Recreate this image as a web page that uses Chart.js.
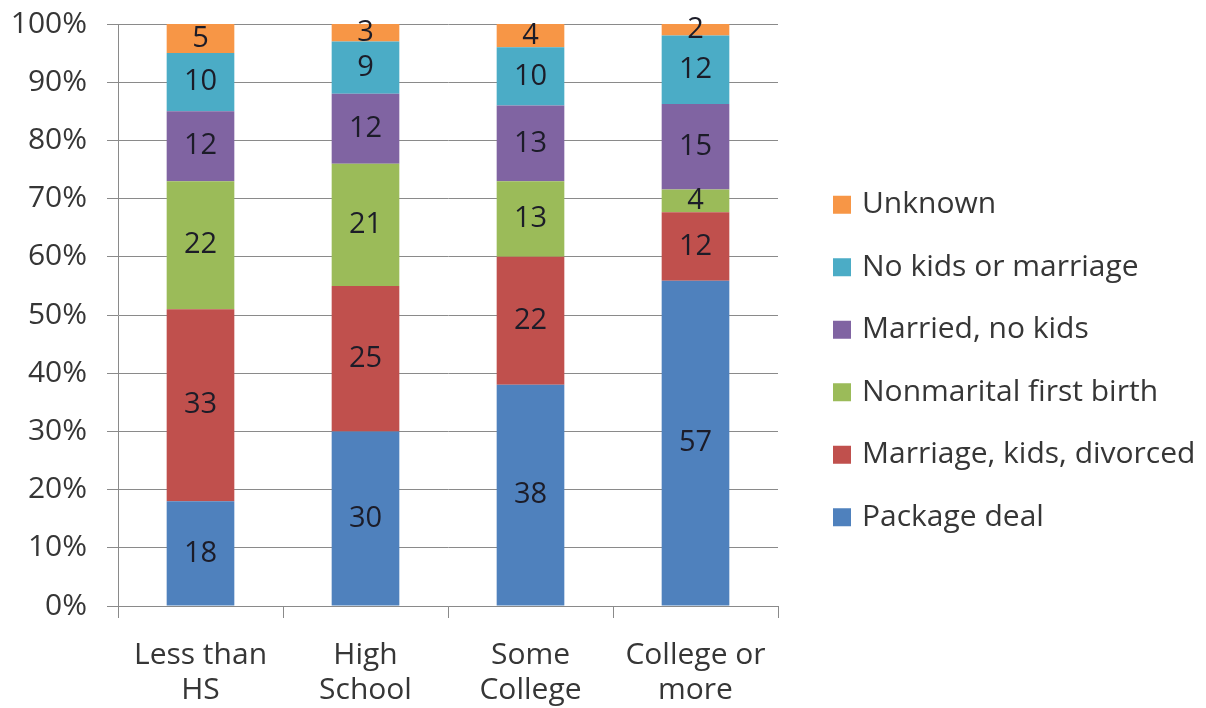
<!DOCTYPE html>
<html>
<head>
<meta charset="utf-8">
<script src="https://cdn.jsdelivr.net/npm/chart.js@4/dist/chart.umd.min.js"></script>
<style>
  html, body { margin: 0; padding: 0; background: #fff; }
  #wrap { width: 1206px; height: 708px; position: relative; }
</style>
</head>
<body>
<div id="wrap"><canvas id="chart"></canvas></div>
<script>
const categories = [["Less than", "HS"], ["High", "School"], ["Some", "College"], ["College or", "more"]];
const packageDeal = [18, 30, 38, 57];
const marriageKidsDivorced = [33, 25, 22, 12];
const nonmaritalFirstBirth = [22, 21, 13, 4];
const marriedNoKids = [12, 12, 13, 15];
const noKidsOrMarriage = [10, 9, 10, 12];
const unknown = [5, 3, 4, 2];
const yTicks = [0, 10, 20, 30, 40, 50, 60, 70, 80, 90, 100];

const seriesNames = ["Package deal", "Marriage, kids, divorced", "Nonmarital first birth",
  "Married, no kids", "No kids or marriage", "Unknown"];
const seriesValues = [packageDeal, marriageKidsDivorced, nonmaritalFirstBirth,
  marriedNoKids, noKidsOrMarriage, unknown];
const seriesColors = ["#4F81BD", "#C0504D", "#9BBB59", "#8064A2", "#4BACC6", "#F79646"];

const FONT = "'Open Sans', Lato, sans-serif";
const textColor = "#363636";
const gridColor = "#8a8a8a";

// 100% stacked: each column scaled to its own total
const totals = categories.map((c, i) => seriesValues.reduce((s, arr) => s + arr[i], 0));

const datasets = seriesValues.map((vals, k) => ({
  label: seriesNames[k],
  raw: vals,
  data: vals.map((v, i) => v / totals[i] * 100),
  backgroundColor: seriesColors[k],
  borderWidth: 0,
  barPercentage: 0.41,
  categoryPercentage: 1.0,
}));

// values written in the middle of each segment
const segmentLabels = {
  id: "segmentLabels",
  afterDatasetsDraw(chart) {
    const ctx = chart.ctx;
    ctx.save();
    ctx.font = "29px " + FONT;
    ctx.fillStyle = "#1c1c28";
    ctx.textAlign = "center";
    ctx.textBaseline = "middle";
    chart.data.datasets.forEach((ds, k) => {
      chart.getDatasetMeta(k).data.forEach((bar, i) => {
        const yMid = (bar.y + bar.base) / 2;
        ctx.fillText(String(ds.raw[i]), bar.x, yMid);
      });
    });
    ctx.restore();
  }
};

// legend on the right, last series on top
const sideLegend = {
  id: "sideLegend",
  afterDraw(chart) {
    const ctx = chart.ctx;
    const ds = chart.data.datasets;
    const step = 62.5;
    const x0 = chart.chartArea.right + 55;
    let y = chart.height / 2 - step * (ds.length - 1) / 2 + 7;
    ctx.save();
    ctx.font = "30px " + FONT;
    ctx.textBaseline = "middle";
    ctx.textAlign = "left";
    for (let k = ds.length - 1; k >= 0; k--) {
      ctx.fillStyle = ds[k].backgroundColor;
      ctx.fillRect(x0, y - 9, 18, 18);
      ctx.fillStyle = textColor;
      ctx.fillText(ds[k].label, x0 + 29, y);
      y += step;
    }
    ctx.restore();
  }
};

new Chart(document.getElementById("chart"), {
  type: "bar",
  data: { labels: categories, datasets: datasets },
  plugins: [segmentLabels, sideLegend],
  options: {
    responsive: true,
    maintainAspectRatio: false,
    animation: false,
    layout: { padding: { top: 24, right: 428, bottom: 0, left: 0 } },
    plugins: {
      legend: { display: false },
      tooltip: { enabled: false },
    },
    scales: {
      x: {
        stacked: true,
        grid: {
          display: true,
          offset: true,
          drawOnChartArea: false,
          drawTicks: true,
          tickLength: 12,
          color: gridColor,
        },
        border: { display: true, color: gridColor, width: 1 },
        ticks: {
          color: textColor,
          font: { family: FONT, size: 30, lineHeight: 1.17 },
          padding: 20,
          maxRotation: 0,
        },
        afterFit(scale) { scale.height = 102; },
      },
      y: {
        stacked: true,
        min: 0,
        max: 100,
        afterBuildTicks(scale) { scale.ticks = yTicks.map(v => ({ value: v })); },
        grid: {
          color: gridColor,
          tickLength: 11,
          drawTicks: true,
        },
        border: { display: true, color: gridColor, width: 1 },
        ticks: {
          color: textColor,
          font: { family: FONT, size: 30 },
          padding: 20,
          callback: v => v + "%",
        },
        afterFit(scale) {
          scale.width = 118;
          scale.paddingTop = 0;
          scale.paddingBottom = 0;
        },
      },
    },
  },
});
</script>
</body>
</html>
